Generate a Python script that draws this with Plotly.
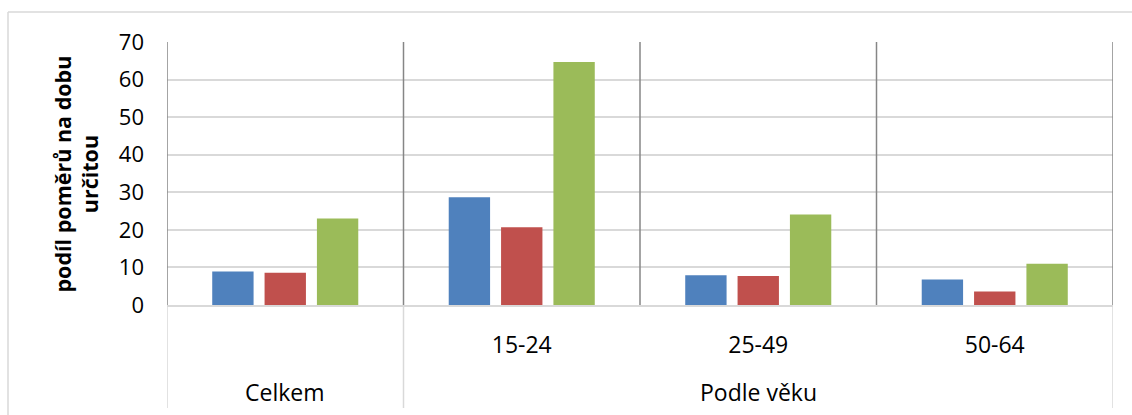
import plotly.graph_objects as go

categories = ["Celkem", "15-24", "25-49", "50-64"]
tick_labels = ["", "15-24", "25-49", "50-64"]
group_labels = ["Celkem", "Podle věku"]
group_centers = [0, 2]

series_a = [8.9, 28.7, 7.9, 6.8]
series_b = [8.6, 20.7, 7.7, 3.6]
series_c = [23.0, 64.7, 24.1, 11.0]

colors = ["#4F81BD", "#C0504D", "#9BBB59"]
FONT = "Open Sans"

fig = go.Figure()
for vals, col in zip([series_a, series_b, series_c], colors):
    fig.add_trace(go.Bar(x=categories, y=vals, marker=dict(color=col, line=dict(width=0)),
                         showlegend=False))

L, R, T, B = 167, 19, 42, 110
W, H = 1132, 415
pw = W - L - R
ph = H - T - B

fig.update_layout(
    width=W, height=H,
    margin=dict(l=L, r=R, t=T, b=B),
    plot_bgcolor="white", paper_bgcolor="white",
    barmode="group", bargap=0.336, bargroupgap=0.21,
    font=dict(family=FONT, color="#000000"),
)
fig.update_xaxes(
    type="category", categoryorder="array", categoryarray=categories,
    tickvals=categories, ticktext=tick_labels, tickfont=dict(size=23, family=FONT),
    ticks="", showline=True, linecolor="#D9D9D9", linewidth=2,
    showgrid=False, zeroline=False, ticklabelstandoff=18, range=[-0.5, 3.5],
)
fig.update_yaxes(
    range=[0, 70], dtick=10, tickfont=dict(size=22, family=FONT),
    showgrid=True, gridcolor="#D9D9D9", gridwidth=2, zeroline=False,
    showline=False, ticks="", ticklabelstandoff=22,
)

shapes = []
# dark vertical separators within plot area
for xb in [-0.5, 0.5, 1.5, 2.5, 3.5]:
    shapes.append(dict(type="line", xref="x", yref="paper", x0=xb, x1=xb, y0=0, y1=1,
                       line=dict(color="#868686", width=1.5), layer="above"))
# light separators in label area
ybot = -(408 - (H - B)) / ph
for xb in [-0.5, 0.5, 3.5]:
    shapes.append(dict(type="line", xref="x", yref="paper", x0=xb, x1=xb, y0=ybot, y1=0,
                       line=dict(color="#D9D9D9", width=1.5)))
# outer chart border (left and top)
bx = (8 - L) / pw
by = (H - B - 12) / ph
shapes.append(dict(type="line", xref="paper", yref="paper", x0=bx, x1=bx, y0=by, y1=-(H - (H - B) + 5) / ph,
                   line=dict(color="#D9D9D9", width=1.5)))
shapes.append(dict(type="line", xref="paper", yref="paper", x0=bx, x1=(W + 5 - L) / pw, y0=by, y1=by,
                   line=dict(color="#D9D9D9", width=1.5)))
fig.update_layout(shapes=shapes)

annotations = []
yrow2 = -(392 - (H - B)) / ph
for lbl, cx in zip(group_labels, group_centers):
    annotations.append(dict(text=lbl, x=cx, xref="x", y=yrow2, yref="paper",
                            showarrow=False, xanchor="center", yanchor="middle",
                            font=dict(size=23, family=FONT, color="#000000")))
annotations.append(dict(text="<b>podíl poměrů na dobu<br>určitou</b>", textangle=-90,
                        x=(76 - L) / pw, xref="paper", y=(H - B - 174.5) / ph, yref="paper",
                        showarrow=False, xanchor="center", yanchor="middle",
                        font=dict(size=21.5, family=FONT, color="#000000")))
fig.update_layout(annotations=annotations)

fig.write_html("out.html")
